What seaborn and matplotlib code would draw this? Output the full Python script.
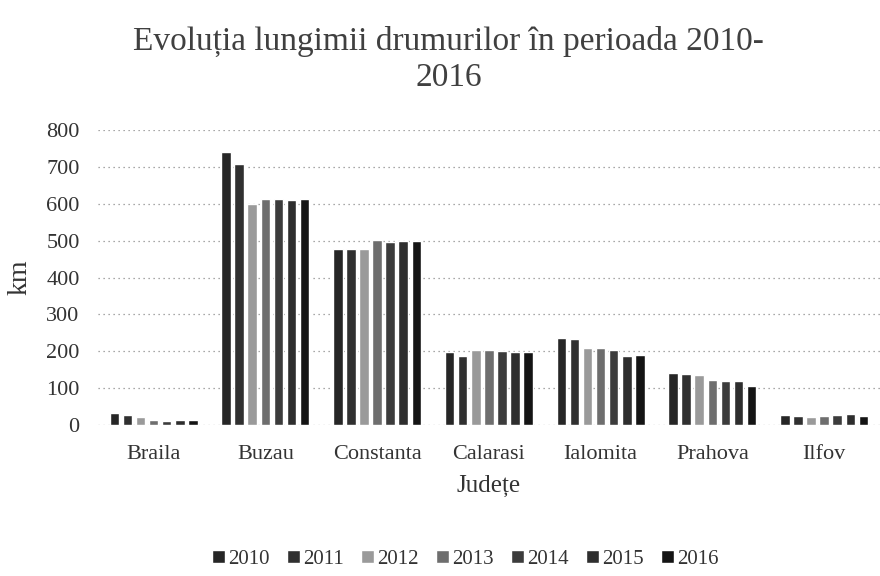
import matplotlib
matplotlib.use("Agg")
import matplotlib.pyplot as plt
import seaborn as sns
import pandas as pd

judete = ["Braila", "Buzau", "Constanta", "Calarasi", "Ialomita", "Prahova", "Ilfov"]
ani = ["2010", "2011", "2012", "2013", "2014", "2015", "2016"]

km_2010 = [32, 740, 479, 199, 235, 142, 28]
km_2011 = [28, 709, 479, 187, 233, 138, 26]
km_2012 = [22, 600, 479, 203, 208, 135, 22]
km_2013 = [14, 614, 501, 203, 208, 122, 24]
km_2014 = [12, 614, 497, 200, 203, 120, 28]
km_2015 = [14, 610, 500, 197, 187, 120, 30]
km_2016 = [15, 612, 500, 199, 191, 106, 26]

serii = [km_2010, km_2011, km_2012, km_2013, km_2014, km_2015, km_2016]
culori = ["#262626", "#303030", "#9a9a9a", "#6e6e6e", "#3c3c3c", "#2e2e2e", "#141414"]

rows = []
for an, valori in zip(ani, serii):
    for jud, v in zip(judete, valori):
        rows.append({"Judet": jud, "An": an, "km": v})
df = pd.DataFrame(rows)

sns.set_theme(style="white")
plt.rcParams["font.family"] = ["Liberation Serif", "DejaVu Serif"]
text_col = "#333333"

fig, ax = plt.subplots(figsize=(8.8, 5.76), dpi=100)
fig.subplots_adjust(left=0.111, right=1.0, top=0.774, bottom=0.262)

sns.barplot(data=df, x="Judet", y="km", hue="An", hue_order=ani,
            palette=culori, width=0.82, saturation=1, ax=ax, zorder=3)

# narrow each bar so a small white gap separates neighbours
for p in ax.patches:
    w = p.get_width()
    if w > 0:
        nw = w * 0.73
        p.set_x(p.get_x() + (w - nw) / 2)
        p.set_width(nw)

ax.set_ylim(0, 800)
ax.set_yticks(range(0, 801, 100))
ax.set_xlim(-0.5, 6.5)
ax.yaxis.grid(True, linestyle=(0, (1, 3)), color="#8c8c8c", linewidth=0.9, zorder=0)
ax.xaxis.grid(False)
for s in ax.spines.values():
    s.set_visible(False)
ax.tick_params(axis="both", length=0, colors=text_col, labelsize=16)
ax.tick_params(axis="x", pad=14, labelsize=16)
ax.tick_params(axis="y", pad=13)

ax.set_ylabel("km", fontsize=20, color=text_col, labelpad=10)
ax.set_xlabel("Județe", fontsize=18, color=text_col, labelpad=8)

fig.text(0.51, 0.955, "Evoluția lungimii drumurilor în perioada 2010-\n2016",
         ha="center", va="top", fontsize=24, color="#404040", linespacing=1.25)

leg = ax.legend(loc="upper center", bbox_to_anchor=(0.47, -0.36), ncol=7,
                frameon=False, fontsize=15, handlelength=0.6, handleheight=0.6,
                handletextpad=0.15, columnspacing=0.85)
for t in leg.get_texts():
    t.set_color(text_col)

fig.savefig("out.png", dpi=100)
